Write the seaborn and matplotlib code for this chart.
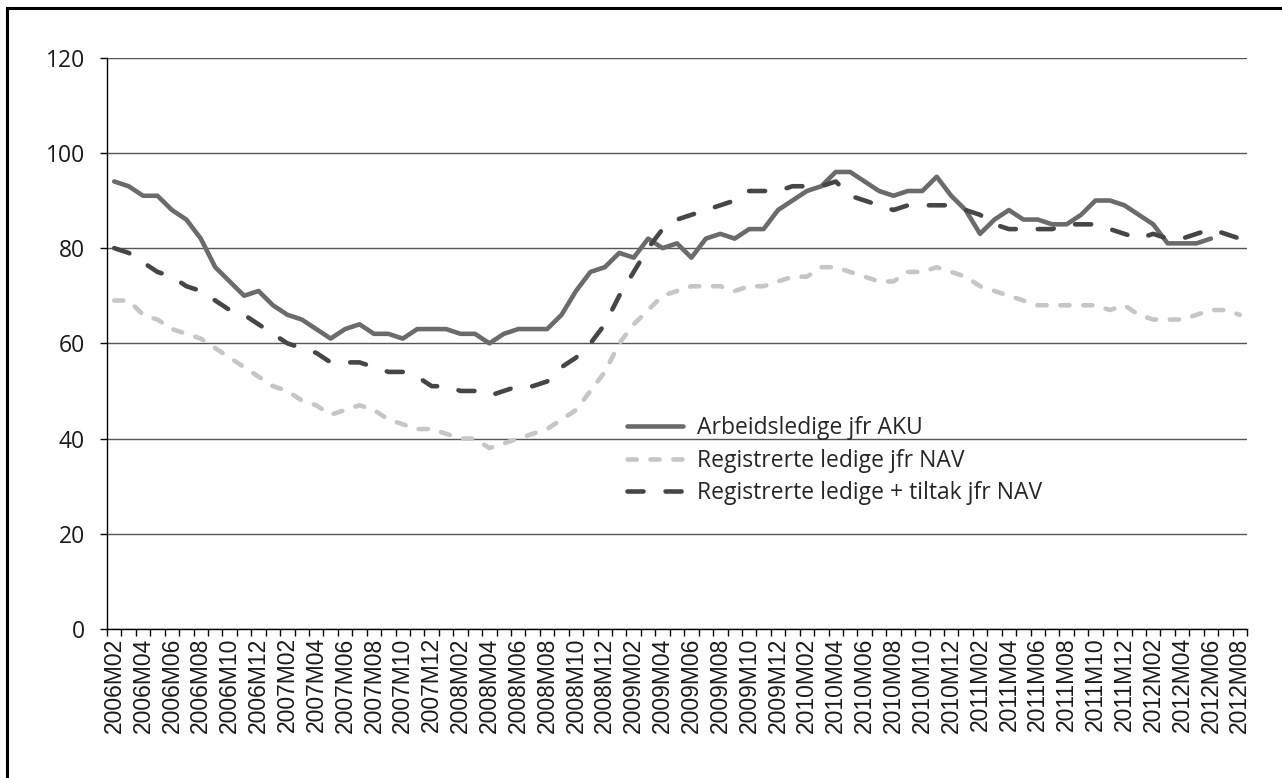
import numpy as np
import pandas as pd
import seaborn as sns
import matplotlib.pyplot as plt
from matplotlib.patches import Rectangle

# monthly series 2006M02 - 2012M08
months = [f"{y}M{m:02d}" for y in range(2006, 2013) for m in range(1, 13)]
months = months[months.index("2006M02"):months.index("2012M08") + 1]

aku = [94, 93, 91, 91, 88, 86, 82, 76, 73, 70,
       71, 68, 66, 65, 63, 61, 63, 64, 62, 62,
       61, 63, 63, 63, 62, 62, 60, 62, 63, 63,
       63, 66, 71, 75, 76, 79, 78, 82, 80, 81,
       78, 82, 83, 82, 84, 84, 88, 90, 92, 93,
       96, 96, 94, 92, 91, 92, 92, 95, 91, 88,
       83, 86, 88, 86, 86, 85, 85, 87, 90, 90,
       89, 87, 85, 81, 81, 81, 82, np.nan, np.nan]

nav = [69, 69, 66, 65, 63, 62, 61, 59, 57, 55,
       53, 51, 50, 48, 47, 45, 46, 47, 46, 44,
       43, 42, 42, 41, 40, 40, 38, 39, 40, 41,
       42, 44, 46, 50, 54, 60, 64, 67, 70, 71,
       72, 72, 72, 71, 72, 72, 73, 74, 74, 76,
       76, 75, 74, 73, 73, 75, 75, 76, 75, 74,
       72, 71, 70, 69, 68, 68, 68, 68, 68, 67,
       68, 66, 65, 65, 65, 66, 67, 67, 66]

tiltak = [80, 79, 77, 75, 74, 72, 71, 69, 67, 66,
          64, 62, 60, 59, 58, 56, 56, 56, 55, 54,
          54, 53, 51, 51, 50, 50, 49, 50, 51, 51,
          52, 55, 57, 60, 64, 70, 75, 80, 84, 86,
          87, 88, 89, 90, 92, 92, 92, 93, 93, 93,
          94, 91, 90, 89, 88, 89, 89, 89, 89, 88,
          87, 85, 84, 84, 84, 84, 85, 85, 85, 84,
          83, 82, 83, 82, 82, 83, 84, 83, 82]

labels = ["Arbeidsledige jfr AKU", "Registrerte ledige jfr NAV",
          "Registrerte ledige + tiltak jfr NAV"]

df = pd.DataFrame({"t": np.arange(len(months)), "aku": aku, "nav": nav, "tiltak": tiltak})

sns.set_theme(style="white")
plt.rcParams['font.family'] = ['Open Sans', 'DejaVu Sans']

fig = plt.figure(figsize=(12.82, 7.78), dpi=100)
ax = fig.add_axes([0.08346, 0.19152, 0.88924, 0.73432])

lw = 3.3
sns.lineplot(ax=ax, data=df, x="t", y="aku", color="#6b6b6b", lw=lw, label=labels[0])
sns.lineplot(ax=ax, data=df, x="t", y="nav", color="#c6c6c6", lw=lw, label=labels[1])
sns.lineplot(ax=ax, data=df, x="t", y="tiltak", color="#464646", lw=lw, label=labels[2])
lines = ax.get_lines()
lines[0].set_solid_capstyle("round")
lines[1].set_dashes([2.0, 3.0])
lines[2].set_dashes([3.5, 4.8])
for ln in lines[1:]:
    ln.set_dash_capstyle("round")

ax.set_xlim(-0.5, len(months) - 0.5)
ax.set_ylim(0, 120)
ax.set_yticks(range(0, 121, 20))
ax.yaxis.grid(True, color="#555555", lw=1.0)
ax.set_axisbelow(True)
ax.set_xticks(range(0, len(months), 2))
ax.set_xticklabels(months[::2], rotation=90, family="Liberation Sans", fontsize=16.5)
ax.set_xticks(np.arange(-0.5, len(months), 1), minor=True)
ax.tick_params(axis="x", which="major", length=0, pad=6, colors="#1a1a1a")
ax.tick_params(axis="x", which="minor", length=5, width=1, color="black", direction="out", bottom=True)
ax.tick_params(axis="y", length=5, width=1, color="black", direction="out", left=True,
               labelsize=16.5, pad=11, labelcolor="#1a1a1a")
for s in ["top", "right"]:
    ax.spines[s].set_visible(False)
ax.spines["left"].set_color("black")
ax.spines["bottom"].set_color("black")
ax.spines["left"].set_linewidth(1)
ax.spines["bottom"].set_linewidth(1)
ax.set_xlabel("")
ax.set_ylabel("")

ax.legend(loc="upper left", bbox_to_anchor=(627 / 1282, 1 - 416 / 778),
          bbox_transform=fig.transFigure, frameon=False, fontsize=16.5,
          handlelength=2.45, handletextpad=0.6, labelspacing=0.38,
          borderpad=0, borderaxespad=0)

fig.patches.append(Rectangle((6.5 / 1282, -0.5), 2.0, 0.5 + 1 - 7.5 / 778,
                             transform=fig.transFigure, fill=False,
                             edgecolor="black", lw=2.2))

plt.savefig("out.png", dpi=100)
